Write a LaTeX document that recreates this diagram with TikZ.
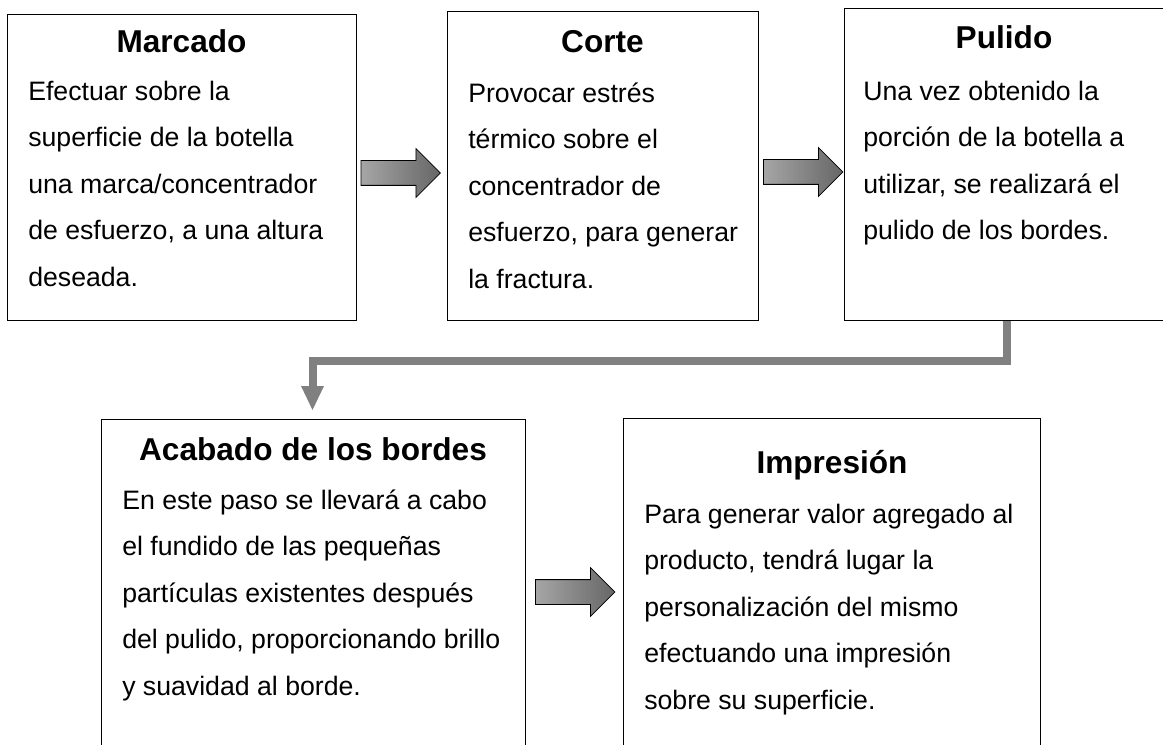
\documentclass[tikz,border=0pt]{standalone}
\usepackage{fontspec}
\setmainfont{Liberation Sans}
\usetikzlibrary{shapes.arrows,arrows.meta,calc}
\definecolor{conngray}{RGB}{128,128,128}
\begin{document}
\begin{tikzpicture}[x=0.75pt,y=-0.75pt,
  stepbox/.style={draw=black,line width=0.9pt,fill=white,anchor=north west,inner sep=0pt,rectangle},
  ttl/.style={font=\fontsize{23.7}{28}\selectfont\bfseries,anchor=base,inner sep=0pt},
  body/.style={font=\fontsize{20}{34.9}\selectfont,anchor=north west,align=left,inner sep=0pt},
  blockarrow/.style={single arrow,draw=black,line width=0.6pt,left color=black!35,right color=black!60,
    minimum height=59.5pt,minimum width=0pt,inner xsep=0pt,inner ysep=9pt,
    single arrow head extend=9pt,single arrow tip angle=90},
  conn/.style={draw=conngray,line width=6pt,line join=miter}
]
\useasboundingbox (0,0) rectangle (1163,745);
\clip (0,0) rectangle (1163,745);

% boxes
\node[stepbox,minimum width=261.75pt,minimum height=229.5pt] (b1) at (7,14) {};
\node[stepbox,minimum width=233.25pt,minimum height=231.75pt] (b2) at (447,11) {};
\node[stepbox,minimum width=240pt,minimum height=234pt] (b3) at (844,8) {};
\node[stepbox,minimum width=318pt,minimum height=300pt] (b4) at (101,419) {};
\node[stepbox,minimum width=312.75pt,minimum height=300pt] (b5) at (623,418) {};

% titles
\node[ttl] (t1) at (181.5,53) {Marcado};
\node[ttl] (t2) at (602.5,53) {Corte};
\node[ttl] (t3) at (1004,49) {Pulido};
\node[ttl] (t4) at (313,460) {Acabado de los bordes};
\node[ttl] (t5) at (832,473) {Impresión};

% bodies
\node[body] (d1) at (28,73.3) {\rule{0pt}{20pt}Efectuar sobre la\\superficie de la botella\\una marca/concentrador\\de esfuerzo, a una altura\\deseada.};
\node[body] (d2) at (468,75.3) {\rule{0pt}{20pt}Provocar estrés\\térmico sobre el\\concentrador de\\esfuerzo, para generar\\la fractura.};
\node[body] (d3) at (863,73.3) {\rule{0pt}{20pt}Una vez obtenido la\\porción de la botella a\\utilizar, se realizará el\\pulido de los bordes.};
\node[body] (d4) at (122,482.3) {\rule{0pt}{20pt}En este paso se llevará a cabo\\el fundido de las pequeñas\\partículas existentes después\\del pulido, proporcionando brillo\\y suavidad al borde.};
\node[body] (d5) at (644,496.3) {\rule{0pt}{20pt}Para generar valor agregado al\\producto, tendrá lugar la\\personalización del mismo\\efectuando una impresión\\sobre su superficie.};

% block arrows
\node[blockarrow] (a1) at (394.5,173) {};
\node[blockarrow] (a2) at (797,172) {};
\node[blockarrow] (a3) at (569,592) {};

% connector
\coordinate (c1) at ($(b3.south west)+(163,0)$);
\coordinate (c2) at ($(b4.north west)+(211.5,-58)$);
\coordinate (c3) at ($(b4.north west)+(211.5,-9)$);
\draw[conn,-{Triangle[width=17.25pt,length=18pt,line width=0pt]}] (c1) |- (c2) -- (c3);
\end{tikzpicture}
\end{document}
